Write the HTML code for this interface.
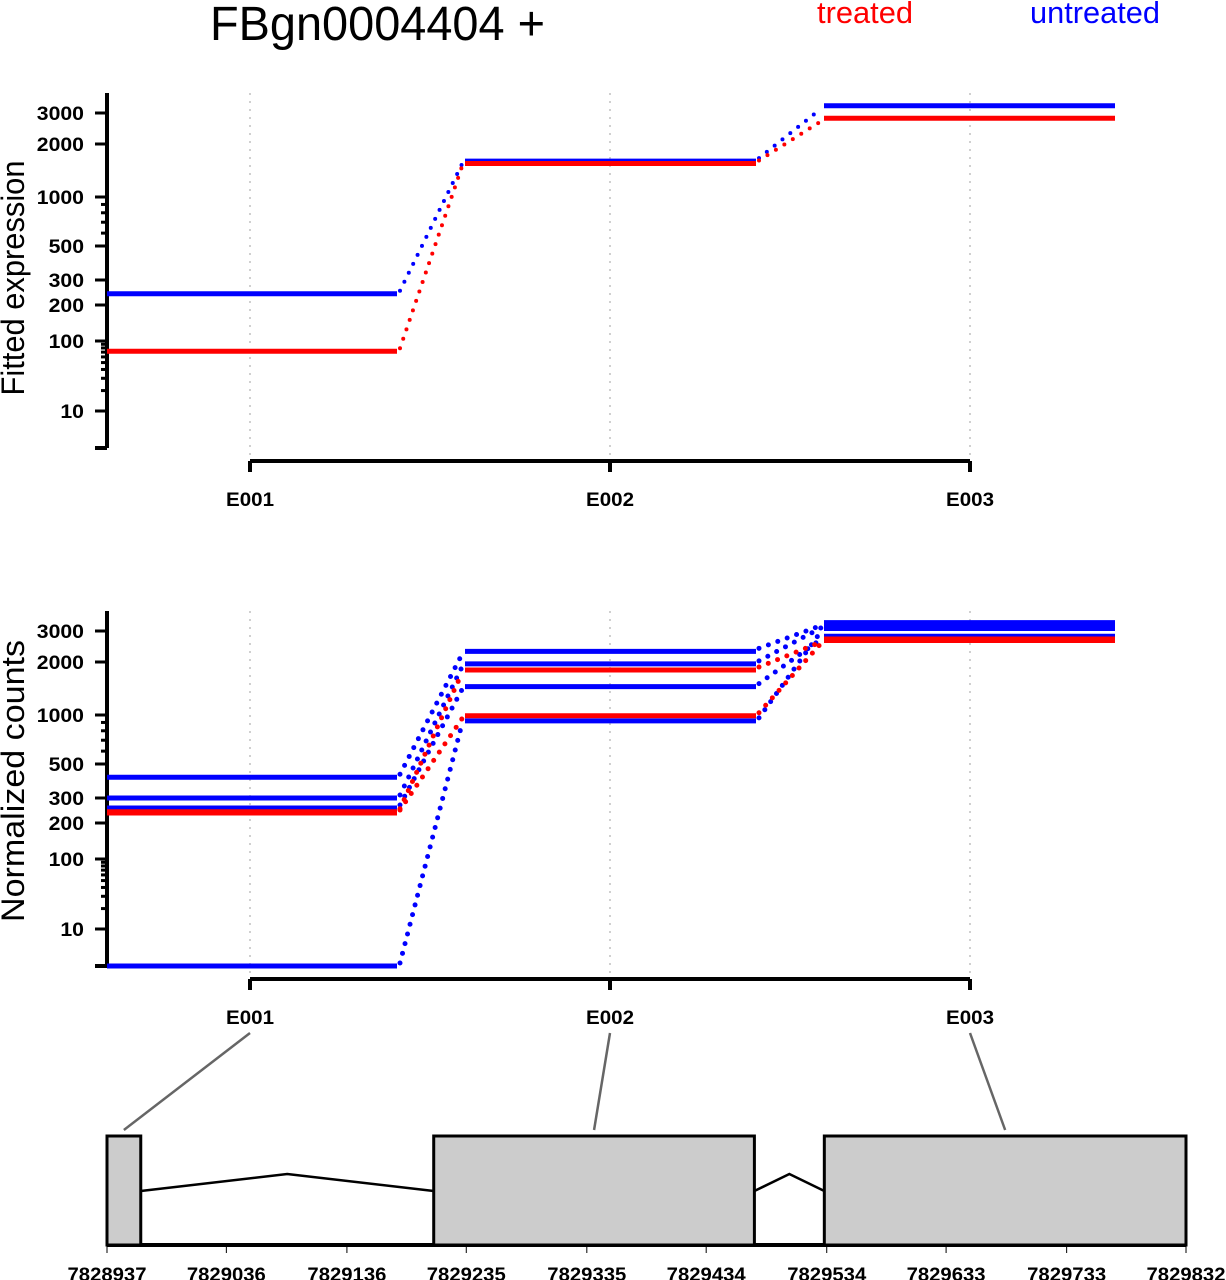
<!DOCTYPE html>
<html><head><meta charset="utf-8"><style>
html,body{margin:0;padding:0;background:#fff}
svg{display:block;font-family:"Liberation Sans",Arial,sans-serif}
</style></head><body>
<svg id="c" width="1226" height="1280" xmlns="http://www.w3.org/2000/svg">
<text x="210" y="40" font-size="48" textLength="335" lengthAdjust="spacingAndGlyphs">FBgn0004404 +</text>
<text x="817" y="23" font-size="31" fill="#ff0000" textLength="96" lengthAdjust="spacingAndGlyphs">treated</text>
<text x="1030" y="23" font-size="31" fill="#0000ff" textLength="130" lengthAdjust="spacingAndGlyphs">untreated</text>
<g id="g"></g>
</svg>
<script>
// ---- data ----
const exons = ["E001","E002","E003"];
const tickVals = [10,100,200,300,500,1000,2000,3000];
const fittedTreated = [72, 1550, 2800];
const fittedUntreated = [240, 1600, 3300];
const countsTreated = [[240,1800,2700],[235,990,2650]];
const countsUntreated = [[410,2300,3350],[300,1950,3250],[255,1450,2800],[0,920,3100]];
const genomicLabels = ["7828937","7829036","7829136","7829235","7829335","7829434","7829534","7829633","7829733","7829832"];
const exonStarts = [7828937, 7829208, 7829532];
const exonEnds = [7828965, 7829474, 7829832];

// ---- axis functions ----
const NS="http://www.w3.org/2000/svg";
const g=document.getElementById('g');
function el(t,a,p){const e=document.createElementNS(NS,t);for(const k in a)e.setAttribute(k,a[k]);(p||g).appendChild(e);return e;}
const refV=[0,10,100,200,300,500,1000,2000,3000];
const refY=[448,411,341,305,280,246,197,144,113];
function yScale(v,off){
  const L=x=>Math.log10(x+1);
  const lv=L(v);let i=0;
  while(i<refV.length-2 && lv>L(refV[i+1])) i++;
  const f=(lv-L(refV[i]))/(L(refV[i+1])-L(refV[i]));
  return refY[i]+f*(refY[i+1]-refY[i])+off;
}
const segX=[[107,397],[465,756],[824,1115]];
const centerX=i=>250+360*i;
const gx0=107,gx1=1186,gmin=7828937,gmax=7829832;
const gScale=p=>gx0+(p-gmin)/(gmax-gmin)*(gx1-gx0);

function panel(off,title,tlen,series,dotR){
  exons.forEach((e,i)=>{const l=el('line',{x1:centerX(i),x2:centerX(i),y1:93+off,y2:458+off,stroke:'#d0d0d0','stroke-width':2,'stroke-dasharray':'2 6'});
    });
  const ax=el('line',{x1:107,x2:107,y1:93+off,y2:448+off,stroke:'#000','stroke-width':4});
  
  el('line',{x1:95,x2:107,y1:448+off,y2:448+off,stroke:'#000','stroke-width':4});
  tickVals.forEach(v=>{const y=yScale(v,off);
    el('line',{x1:95,x2:107,y1:y,y2:y,stroke:'#000','stroke-width':3});
    const s=String(v);
    const t=el('text',{x:84,y:y+7,'font-size':19,'font-weight':'bold','text-anchor':'end',textLength:s.length*11.8,lengthAdjust:'spacingAndGlyphs'});t.textContent=s;
    });
  [20,30,40,50,60,70,80,90,600,700,800,900].forEach(v=>{const y=yScale(v,off);
    el('line',{x1:101,x2:107,y1:y,y2:y,stroke:'#000','stroke-width':3});});
  const yt=el('text',{x:0,y:0,'font-size':32,'text-anchor':'middle',textLength:tlen,lengthAdjust:'spacingAndGlyphs',transform:`translate(24,${(off?781:278)}) rotate(-90)`});
  yt.textContent=title;
  const xa=el('line',{x1:250,x2:970,y1:461+off,y2:461+off,stroke:'#000','stroke-width':4});
  
  exons.forEach((e,i)=>{el('line',{x1:centerX(i),x2:centerX(i),y1:461+off,y2:472+off,stroke:'#000','stroke-width':4});
    const t=el('text',{x:centerX(i),y:506+off,'font-size':19,'font-weight':'bold','text-anchor':'middle',textLength:48,lengthAdjust:'spacingAndGlyphs'});t.textContent=e;
    });
  series.forEach(s=>{
    s.vals.forEach((v,i)=>{const y=yScale(v,off);
      const l=el('line',{x1:segX[i][0],x2:segX[i][1],y1:y,y2:y,stroke:s.col,'stroke-width':5});
      
      if(i<s.vals.length-1){const y2=yScale(s.vals[i+1],off);
        const c=el('line',{x1:segX[i][1]+3,x2:segX[i+1][0]-3,y1:y-3,y2:y2+3,stroke:s.col,'stroke-width':dotR,'stroke-linecap':'round','stroke-dasharray':'0 10'});
        }
    });
  });
}
panel(0,'Fitted expression',235,[
  {vals:fittedUntreated,col:'#0000ff',name:'fitted-untreated'},
  {vals:fittedTreated,col:'#ff0000',name:'fitted-treated'}],4);
const cs=[];
countsUntreated.forEach((v,k)=>cs.push({vals:v,col:'#0000ff',name:'counts-untreated-'+(k+1)}));
countsTreated.forEach((v,k)=>cs.push({vals:v,col:'#ff0000',name:'counts-treated-'+(k+1)}));
panel(518,'Normalized counts',282,cs,5);

// gene model
const ga=el('line',{x1:gx0,x2:gx1,y1:1245,y2:1245,stroke:'#000','stroke-width':4});

genomicLabels.forEach((lab,i)=>{const x=gScale(+lab);
  el('line',{x1:x,x2:x,y1:1245,y2:1253,stroke:'#000','stroke-width':1});
  const t=el('text',{x:x,y:1281,'font-size':19,'font-weight':'bold','text-anchor':'middle',textLength:79,lengthAdjust:'spacingAndGlyphs'});t.textContent=lab;
  });
exonStarts.forEach((s,i)=>{const x0=gScale(s),x1=gScale(exonEnds[i]);
  const r=el('rect',{x:x0,y:1136,width:x1-x0,height:109,fill:'#cccccc',stroke:'#000','stroke-width':3});
  
  if(i<exonStarts.length-1){const a=x1,b=gScale(exonStarts[i+1]);
    const p=el('polyline',{points:`${a},1191 ${(a+b)/2},1174 ${b},1191`,fill:'none',stroke:'#000','stroke-width':2.5});
    }
  const cl=el('line',{x1:centerX(i),y1:1033,x2:(x0+x1)/2,y2:1130,stroke:'#666','stroke-width':2.5});
  
});
</script>
</body></html>
